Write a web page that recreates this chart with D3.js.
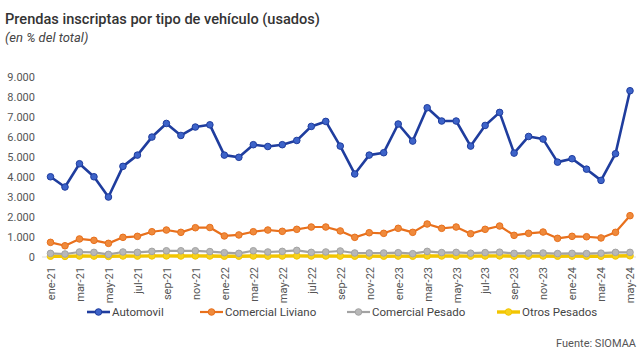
<!DOCTYPE html>
<html lang="es">
<head>
<meta charset="UTF-8">
<title>Prendas inscriptas por tipo de vehículo (usados)</title>
<script src="https://d3js.org/d3.v7.min.js"></script>
<style>
  body { margin: 0; background: #fff; }
  svg text { font-family: Roboto, "Noto Sans", sans-serif; }
</style>
</head>
<body>
<svg id="chart" width="642" height="361"></svg>
<script>
const months = ["ene-21","feb-21","mar-21","abr-21","may-21","jun-21","jul-21","ago-21","sep-21","oct-21","nov-21","dic-21",
  "ene-22","feb-22","mar-22","abr-22","may-22","jun-22","jul-22","ago-22","sep-22","oct-22","nov-22","dic-22",
  "ene-23","feb-23","mar-23","abr-23","may-23","jun-23","jul-23","ago-23","sep-23","oct-23","nov-23","dic-23",
  "ene-24","feb-24","mar-24","abr-24","may-24"];

const automovil = [4000,3490,4650,4000,2990,4520,5080,5980,6660,6060,6480,6590,
  5080,4970,5600,5510,5600,5810,6510,6760,5530,4140,5080,5200,
  6630,5780,7440,6780,6780,5530,6560,7210,5180,6010,5880,4730,
  4900,4380,3820,5150,8290];
const comercialLiviano = [730,560,900,830,680,980,1030,1260,1345,1230,1460,1470,
  1050,1100,1260,1345,1280,1380,1495,1495,1300,980,1210,1180,
  1430,1230,1645,1430,1495,1160,1380,1545,1080,1180,1245,930,
  1030,1010,950,1230,2060];
const comercialPesado = [180,150,250,230,130,250,230,280,310,310,310,270,
  215,180,310,250,280,330,230,250,300,200,200,200,
  215,165,280,220,230,190,220,240,180,190,200,170,
  180,170,190,230,230];
const otrosPesados = [40,30,50,45,30,50,45,55,55,50,55,50,
  40,40,50,45,50,55,50,50,45,40,45,40,
  45,40,55,50,50,45,50,55,45,45,50,40,
  45,40,40,50,60];

const yTicks = [0,1000,2000,3000,4000,5000,6000,7000,8000,9000];

const series = [
  { name: "Automovil", values: automovil, line: "#1f3d9e", dot: "#3d63c9", width: 2.6 },
  { name: "Comercial Liviano", values: comercialLiviano, line: "#e8701c", dot: "#ef8a3c", width: 2.2 },
  { name: "Comercial Pesado", values: comercialPesado, line: "#a3a3a3", dot: "#b8b8b8", width: 2.2 },
  { name: "Otros Pesados", values: otrosPesados, line: "#f2c500", dot: "#f7d21e", width: 3.4 }
];

const svg = d3.select("#chart");
const W = 642, H = 361;
svg.append("rect").attr("width", W).attr("height", H).attr("fill", "#fff");

const x = d3.scalePoint().domain(months).range([50.5, 630]);
const y = d3.scaleLinear().domain([0, 9000]).range([257, 76.5]);

// titles
svg.append("text").attr("x", 5).attr("y", 24)
  .attr("font-size", 14.6).attr("font-weight", 500).attr("fill", "#333")
  .text("Prendas inscriptas por tipo de vehículo (usados)");
svg.append("text").attr("x", 5).attr("y", 42)
  .attr("font-size", 13).attr("font-style", "italic").attr("fill", "#444")
  .text("(en % del total)");

// baseline
svg.append("line").attr("x1", 42).attr("x2", 636)
  .attr("y1", y(0)).attr("y2", y(0)).attr("stroke", "#ddd").attr("stroke-width", 1);

// y axis
const yAxis = d3.axisLeft(y).tickValues(yTicks).tickSize(0).tickPadding(0)
  .tickFormat(d => d3.format(",")(d).replace(/,/g, "."));
const gy = svg.append("g").attr("transform", "translate(35,0)").call(yAxis);
gy.select(".domain").remove();
gy.selectAll("text").attr("font-size", 11).attr("fill", "#555").attr("font-family", "Roboto, sans-serif");

// x axis
const xLabels = months.filter((d, i) => i % 2 === 0);
const xAxis = d3.axisBottom(x).tickValues(xLabels).tickSize(0).tickPadding(0);
const gx = svg.append("g").attr("transform", `translate(0,${y(0) + 10})`).call(xAxis);
gx.select(".domain").remove();
gx.selectAll("text")
  .attr("font-size", 11).attr("fill", "#555").attr("font-family", "Roboto, sans-serif")
  .attr("transform", "rotate(-90)")
  .attr("text-anchor", "end")
  .attr("dx", 0).attr("dy", "0.35em").attr("x", 0).attr("y", 0);

// lines, drawn back to front
const line = d3.line().x((d, i) => x(months[i])).y(d => y(d));
series.slice().reverse().forEach(s => {
  const g = svg.append("g");
  g.append("path").datum(s.values).attr("d", line)
    .attr("fill", "none").attr("stroke", s.line).attr("stroke-width", s.width)
    .attr("stroke-linejoin", "round");
  g.selectAll("circle").data(s.values).join("circle")
    .attr("cx", (d, i) => x(months[i])).attr("cy", d => y(d)).attr("r", 3.3)
    .attr("fill", s.dot).attr("stroke", s.line).attr("stroke-width", 1);
});

// legend
const legendX = [87, 200, 347, 497];
const legend = svg.append("g").attr("transform", "translate(0,312)");
series.forEach((s, i) => {
  const g = legend.append("g").attr("transform", `translate(${legendX[i]},0)`);
  g.append("line").attr("x1", 0).attr("x2", 23).attr("y1", 0).attr("y2", 0)
    .attr("stroke", s.line).attr("stroke-width", s.width);
  g.append("circle").attr("cx", 11.5).attr("cy", 0).attr("r", 3.3)
    .attr("fill", s.dot).attr("stroke", s.line).attr("stroke-width", 1);
  g.append("text").attr("x", 25).attr("y", 4).attr("font-size", 11.5).attr("fill", "#444").text(s.name);
});

// source
svg.append("text").attr("x", 636).attr("y", 347).attr("text-anchor", "end")
  .attr("font-size", 11).attr("fill", "#555").text("Fuente: SIOMAA");
</script>
</body>
</html>
